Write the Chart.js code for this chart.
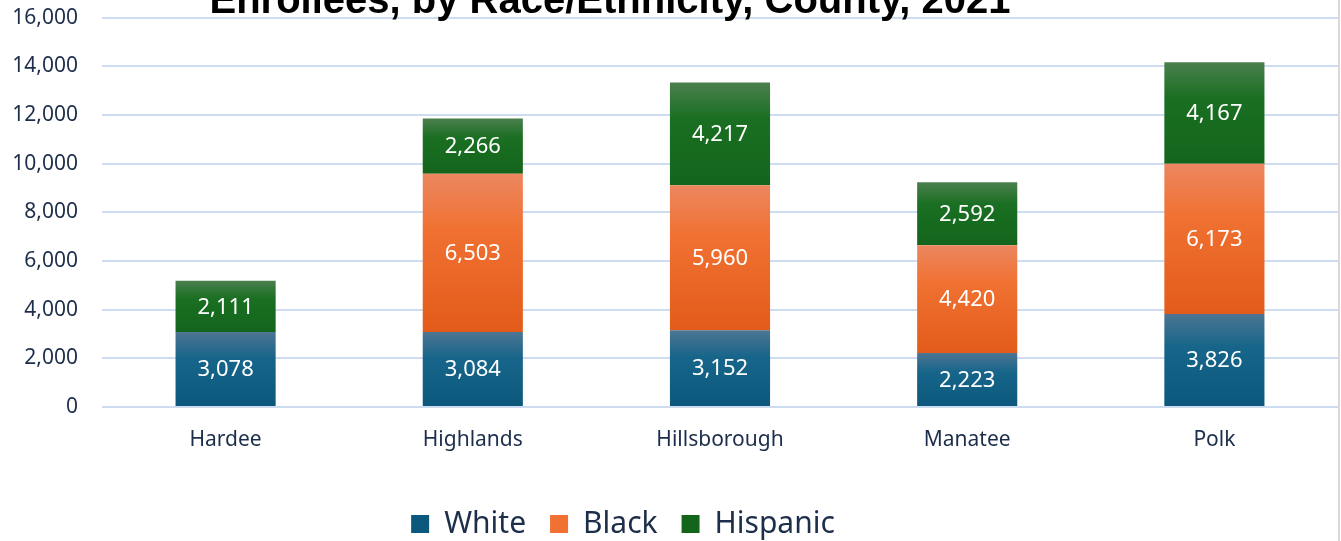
<!DOCTYPE html>
<html>
<head>
<meta charset="utf-8">
<style>
  html, body { margin: 0; padding: 0; background: #fff; }
  #wrap { width: 1341px; height: 541px; position: relative; overflow: hidden; }
  #chart { position: absolute; left: 0; top: -19px; }
</style>
<script src="https://cdn.jsdelivr.net/npm/chart.js@4.4.1/dist/chart.umd.min.js"></script>
</head>
<body>
<div id="wrap"><canvas id="chart" width="1341" height="560"></canvas></div>
<script>
const counties = ['Hardee', 'Highlands', 'Hillsborough', 'Manatee', 'Polk'];
const white = [3078, 3084, 3152, 2223, 3826];
const black = [0, 6503, 5960, 4420, 6173];
const hispanic = [2111, 2266, 4217, 2592, 4167];
const yTicks = [0, 2000, 4000, 6000, 8000, 10000, 12000, 14000, 16000];
const titleText = 'Enrollees, by Race/Ethnicity, County, 2021';

const textColor = '#1c2e4a';
const uiFont = '"Noto Sans", "Open Sans", sans-serif';

// top / middle / bottom colours of each segment's fill
const shades = {
  White: ['#4d7593', '#17658a', '#0b587c'],
  Black: ['#ec8760', '#f07132', '#e35b1a'],
  Hispanic: ['#4b7f4e', '#1a6f22', '#13651b']
};

const series = [
  { label: 'White', values: white },
  { label: 'Black', values: black },
  { label: 'Hispanic', values: hispanic }
];

const plotBottom = 426;   // canvas y of the zero line
const legendMid = 543;    // canvas y of the legend text centre
const legendPad = 24;

function segmentFill(ctx) {
  const name = ctx.dataset.label;
  const cols = shades[name];
  const chart = ctx.chart;
  if (ctx.type !== 'data' || !chart.chartArea || !chart.scales.y) return cols[1];
  const i = ctx.dataIndex;
  let start = 0;
  for (let d = 0; d < ctx.datasetIndex; d++) start += series[d].values[i];
  const end = start + series[ctx.datasetIndex].values[i];
  const y = chart.scales.y;
  const top = y.getPixelForValue(end);
  const bottom = y.getPixelForValue(start);
  if (!(bottom > top)) return cols[1];
  const g = chart.ctx.createLinearGradient(0, top, 0, bottom);
  g.addColorStop(0, cols[0]);
  g.addColorStop(0.35, cols[1]);
  g.addColorStop(1, cols[2]);
  return g;
}

// value labels in the middle of each segment
const segmentLabels = {
  id: 'segmentLabels',
  afterDatasetsDraw(chart) {
    const ctx = chart.ctx;
    ctx.save();
    ctx.fillStyle = '#ffffff';
    ctx.font = '22px ' + uiFont;
    ctx.textAlign = 'center';
    ctx.textBaseline = 'middle';
    chart.data.datasets.forEach((ds, di) => {
      chart.getDatasetMeta(di).data.forEach((bar, i) => {
        const v = ds.data[i];
        if (!v) return;
        ctx.fillText(v.toLocaleString('en-US'), bar.x, (bar.y + bar.base) / 2 + 1);
      });
    });
    ctx.restore();
  }
};

// legend sits a little left of centre, low in the frame
const legendShift = {
  id: 'legendShift',
  afterLayout(chart) {
    const lg = chart.legend;
    if (!lg) return;
    const h = lg.bottom - lg.top;
    lg.left -= 46;
    lg.right -= 46;
    lg.top = legendMid - legendPad - 15;
    lg.bottom = lg.top + h;
  }
};

// heading sits partly above the frame, plus the right frame edge
const heading = {
  id: 'heading',
  afterDraw(chart) {
    const ctx = chart.ctx;
    const area = chart.chartArea;
    ctx.save();
    ctx.fillStyle = '#000000';
    ctx.font = 'bold 40px "Liberation Sans", Arial, sans-serif';
    ctx.textAlign = 'center';
    ctx.textBaseline = 'alphabetic';
    ctx.fillText(titleText, 610, area.top - 5);
    ctx.strokeStyle = '#d9d9d9';
    ctx.lineWidth = 2;
    ctx.beginPath();
    ctx.moveTo(area.right + 1, 0);
    ctx.lineTo(area.right + 1, chart.height);
    ctx.stroke();
    ctx.restore();
  }
};

new Chart(document.getElementById('chart'), {
  type: 'bar',
  data: {
    labels: counties,
    datasets: series.map(s => ({
      label: s.label,
      data: s.values,
      backgroundColor: segmentFill,
      borderWidth: 0,
      categoryPercentage: 1,
      barPercentage: 0.405
    }))
  },
  options: {
    responsive: false,
    animation: false,
    layout: { padding: { top: 0, right: 3, left: 0, bottom: 0 } },
    scales: {
      x: {
        stacked: true,
        grid: { display: false },
        border: { display: false },
        ticks: { color: textColor, font: { size: 21, family: uiFont }, padding: 12 },
        afterFit(scale) {
          const lg = scale.chart.legend;
          const lgH = lg ? lg.height : 0;
          scale.height = scale.chart.height - lgH - plotBottom;
        }
      },
      y: {
        stacked: true,
        min: yTicks[0],
        max: yTicks[yTicks.length - 1],
        afterBuildTicks(scale) { scale.ticks = yTicks.map(v => ({ value: v })); },
        grid: { color: '#cddcf0', lineWidth: 2, drawTicks: false },
        border: { display: false },
        ticks: {
          color: textColor,
          font: { size: 21, family: uiFont },
          padding: 24,
          callback: v => v.toLocaleString('en-US')
        },
        afterFit(scale) { scale.width = 102; }
      }
    },
    plugins: {
      title: { display: false },
      tooltip: { enabled: false },
      legend: {
        position: 'bottom',
        labels: {
          color: textColor,
          boxWidth: 18,
          boxHeight: 18,
          padding: legendPad,
          font: { size: 30, family: uiFont }
        }
      }
    }
  },
  plugins: [segmentLabels, legendShift, heading]
});
</script>
</body>
</html>
